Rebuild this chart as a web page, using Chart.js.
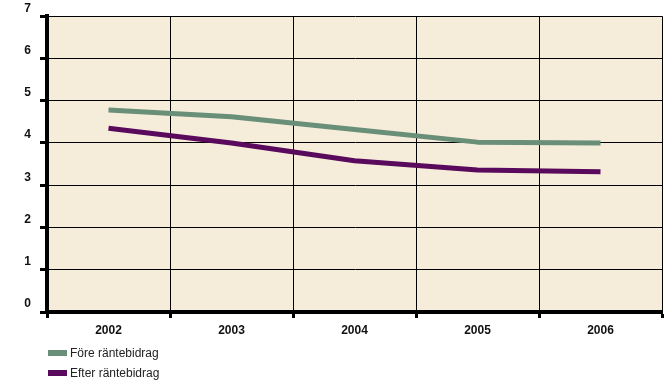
<!DOCTYPE html>
<html>
<head>
<meta charset="utf-8">
<script src="https://cdn.jsdelivr.net/npm/chart.js@4/dist/chart.umd.min.js"></script>
<style>
  html, body { margin: 0; padding: 0; background: #ffffff; }
  #wrap { position: relative; width: 664px; height: 380px; }
  #legend { position: absolute; left: 48px; top: 343px; font-family: "Liberation Sans", Arial, sans-serif; font-size: 12px; color: #222; }
  #legend .item { display: flex; align-items: center; height: 20px; }
  #legend .box { width: 19px; height: 6px; margin-right: 3px; }
</style>
</head>
<body>
<div id="wrap">
  <canvas id="c" width="664" height="380"></canvas>
  <div id="legend"></div>
</div>
<script>
// Years on the category axis
const years = ['2002', '2003', '2004', '2005', '2006'];
// Series values
const foreRantebidrag = [4.78, 4.62, 4.32, 4.02, 4.0];
const efterRantebidrag = [4.35, 4.0, 3.58, 3.36, 3.32];
// Value axis range
const yMin = 0, yMax = 7, yStep = 1;

const seriesNames = ['Före räntebidrag', 'Efter räntebidrag'];
const seriesColors = ['#6a8f78', '#5a0a5c'];

// Fills the plotting area with a beige background
const plotBackground = {
  id: 'plotBackground',
  beforeDraw(chart) {
    const { ctx, chartArea: a } = chart;
    ctx.save();
    ctx.fillStyle = '#f5ecda';
    ctx.fillRect(a.left, a.top, a.right - a.left, a.bottom - a.top);
    ctx.restore();
  }
};

const tickFont = { family: '"Liberation Sans", Arial, sans-serif', size: 12, weight: 'bold' };

const chart = new Chart(document.getElementById('c'), {
  type: 'line',
  data: {
    labels: years,
    datasets: [
      { label: seriesNames[0], data: foreRantebidrag, borderColor: seriesColors[0], backgroundColor: seriesColors[0] },
      { label: seriesNames[1], data: efterRantebidrag, borderColor: seriesColors[1], backgroundColor: seriesColors[1] }
    ].map(d => Object.assign(d, {
      borderWidth: 5, pointRadius: 0, tension: 0,
      borderCapStyle: 'butt', borderJoinStyle: 'round', fill: false
    }))
  },
  options: {
    responsive: false,
    animation: false,
    layout: { padding: { top: 16, right: 2, left: 0, bottom: 40 } },
    plugins: { legend: { display: false }, tooltip: { enabled: false }, title: { display: false } },
    scales: {
      x: {
        offset: true,
        grid: { offset: true, color: '#000', lineWidth: 1, tickColor: '#000', tickWidth: 3, tickLength: 6, drawTicks: true },
        border: { color: '#000', width: 4 },
        ticks: { font: tickFont, color: '#111', padding: 5, maxRotation: 0 },
        afterFit(s) { s.height = 28; }
      },
      y: {
        min: yMin, max: yMax,
        grid: { color: '#000', lineWidth: 1, tickColor: '#000', tickWidth: 3, tickLength: 7 },
        border: { color: '#000', width: 4 },
        ticks: { stepSize: yStep, font: tickFont, color: '#111', padding: 9, labelOffset: -8 },
        afterFit(s) { s.width = 47; }
      }
    }
  },
  plugins: [plotBackground]
});

// Stacked legend under the chart, built from the datasets
const legendEl = document.getElementById('legend');
chart.data.datasets.forEach(ds => {
  const item = document.createElement('div');
  item.className = 'item';
  const box = document.createElement('span');
  box.className = 'box';
  box.style.background = ds.borderColor;
  const txt = document.createElement('span');
  txt.textContent = ds.label;
  item.appendChild(box);
  item.appendChild(txt);
  legendEl.appendChild(item);
});
</script>
</body>
</html>
